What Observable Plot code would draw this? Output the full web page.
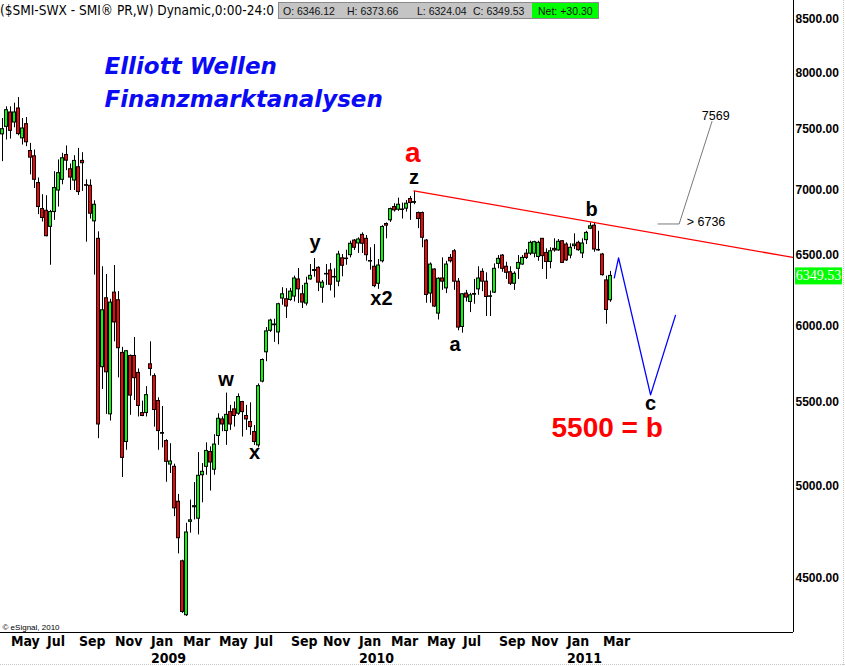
<!DOCTYPE html>
<html>
<head>
<meta charset="utf-8">
<script src="https://cdn.jsdelivr.net/npm/d3@7"></script>
<script src="https://cdn.jsdelivr.net/npm/@observablehq/plot@0.6"></script>
<style>
  html, body { margin: 0; padding: 0; background: #fff; }
  #chart { width: 845px; height: 666px; }
  svg { display: block; }
</style>
</head>
<body>
<div id="chart"></div>
<script>
// ---------------- DATA (weekly SMI candles) ----------------
const firstWeek = "2008-04-21";   // Monday of the first weekly bar

const opens = [
  7459, 7523, 7647, 7560, 7682, 7425, 7546, 7319, 7275, 7057,
  6851, 6838, 6714, 6828, 6997, 7083, 7286, 7169, 7077, 7185,
  7237, 7040, 7035, 6756, 6623, 5723, 6190, 5424, 6230, 6176,
  5817, 5256, 5797, 5797, 5686, 5432, 5432, 5742, 5665, 5507,
  5310, 5262, 5123, 5110, 4911, 4589, 4316, 4800, 4880, 4817,
  5061, 5110, 5197, 5093, 5292, 5393, 5322, 5438, 5455, 5428,
  5501, 5414, 5377, 5316, 5236, 5630, 5821, 5965, 6008, 5954,
  6188, 6183, 6178, 6202, 6324, 6218, 6153, 6324, 6385, 6408,
  6265, 6360, 6389, 6338, 6308, 6478, 6472, 6501, 6610, 6588,
  6653, 6623, 6458, 6416, 6293, 6456, 6736, 6764, 6867, 6846,
  6848, 6854, 6930, 6900, 6820, 6820, 6610, 6223, 6396, 6083,
  6331, 6260, 6481, 6530, 6308, 5991, 6223, 6164, 6215, 6253,
  6379, 6308, 6200, 6230, 6437, 6498, 6416, 6376, 6293, 6401,
  6432, 6512, 6512, 6512, 6488, 6623, 6518, 6451, 6548, 6536,
  6605, 6580, 6498, 6568, 6593, 6514, 6613, 6700, 6723, 6536,
  6506, 6317, 6176
];
const highs = [
  7595, 7696, 7696, 7728, 7778, 7595, 7603, 7383, 7327, 7097,
  6964, 6956, 6841, 7149, 7245, 7300, 7361, 7212, 7280, 7341,
  7305, 7083, 7083, 6916, 6676, 6416, 6360, 6183, 6425, 6237,
  5854, 5830, 5803, 5920, 5712, 5507, 5598, 5891, 5680, 5527,
  5473, 5270, 5246, 5125, 4952, 4595, 4792, 4920, 5019, 5193,
  5129, 5251, 5227, 5300, 5428, 5409, 5557, 5480, 5501, 5552,
  5505, 5480, 5496, 5356, 5615, 5777, 5987, 6044, 6044, 6155,
  6265, 6258, 6260, 6348, 6403, 6281, 6340, 6432, 6476, 6416,
  6317, 6432, 6440, 6401, 6530, 6506, 6538, 6605, 6618, 6631,
  6668, 6648, 6556, 6580, 6469, 6723, 6744, 6859, 6893, 6937,
  6898, 6918, 6950, 6990, 6828, 6828, 6618, 6444, 6401, 6336,
  6481, 6456, 6506, 6543, 6331, 6223, 6246, 6225, 6324, 6416,
  6401, 6372, 6241, 6437, 6498, 6506, 6449, 6416, 6379, 6498,
  6498, 6543, 6605, 6605, 6605, 6626, 6548, 6556, 6623, 6618,
  6610, 6593, 6586, 6661, 6605, 6623, 6680, 6744, 6748, 6680,
  6514, 6348, 6382
];
const lows = [
  7231, 7411, 7419, 7515, 7447, 7369, 7355, 7123, 7013, 6808,
  6751, 6638, 6427, 6764, 6867, 7043, 7157, 6997, 6997, 6958,
  6990, 6598, 6774, 6355, 5276, 5580, 5424, 5383, 5891, 5654,
  5048, 5207, 5418, 5510, 5408, 5410, 5408, 5665, 5346, 5207,
  5221, 5021, 5071, 4828, 4628, 4325, 4310, 4738, 4810, 4729,
  4905, 5061, 4971, 5061, 5236, 5318, 5236, 5326, 5346, 5418,
  5286, 5326, 5296, 5236, 5221, 5622, 5759, 5954, 5887, 5871,
  6141, 6049, 6169, 6164, 6153, 6118, 6136, 6319, 6340, 6237,
  6155, 6281, 6241, 6192, 6272, 6343, 6427, 6481, 6536, 6514,
  6514, 6456, 6391, 6265, 6253, 6444, 6623, 6748, 6828, 6833,
  6774, 6828, 6764, 6885, 6700, 6556, 6155, 6155, 6125, 6039,
  6246, 6223, 6444, 6246, 5965, 5949, 6164, 6090, 6148, 6211,
  6237, 6063, 6063, 6223, 6401, 6376, 6324, 6281, 6246, 6324,
  6427, 6469, 6498, 6481, 6456, 6396, 6324, 6401, 6523, 6530,
  6440, 6456, 6474, 6543, 6530, 6476, 6580, 6693, 6523, 6530,
  6348, 6010, 6162
];
const closes = [
  7503, 7667, 7489, 7647, 7461, 7509, 7392, 7264, 7083, 6867,
  6782, 6643, 6828, 7017, 7137, 7259, 7239, 7101, 7237, 6985,
  7218, 7035, 6815, 6885, 5362, 6106, 5690, 6160, 6022, 5848,
  5162, 5828, 5541, 5652, 5476, 5414, 5544, 5712, 5451, 5322,
  5306, 5139, 5141, 4874, 4711, 4332, 4742, 4808, 4886, 5058,
  5081, 5203, 5135, 5241, 5397, 5362, 5421, 5362, 5414, 5532,
  5438, 5393, 5346, 5256, 5601, 5770, 5961, 6035, 6003, 6148,
  6218, 6132, 6237, 6331, 6253, 6160, 6293, 6350, 6392, 6301,
  6301, 6364, 6286, 6342, 6506, 6423, 6476, 6586, 6556, 6618,
  6586, 6501, 6454, 6276, 6425, 6713, 6723, 6851, 6841, 6885,
  6844, 6893, 6898, 6906, 6774, 6631, 6213, 6432, 6132, 6329,
  6308, 6432, 6456, 6308, 5987, 6218, 6195, 6211, 6220, 6331,
  6308, 6199, 6204, 6401, 6474, 6401, 6372, 6293, 6365, 6444,
  6481, 6481, 6593, 6598, 6593, 6494, 6451, 6530, 6536, 6601,
  6444, 6462, 6556, 6580, 6538, 6588, 6668, 6718, 6543, 6540,
  6355, 6108, 6349.53
];
const lastClose = 6349.53;

// axis ticks and labels
const yTicks = [4500, 5000, 5500, 6000, 6500, 7000, 7500, 8000, 8500];
const monthTickDates = ["2008-05-05","2008-07-07","2008-09-01","2008-11-03","2009-01-05","2009-03-02",
  "2009-05-04","2009-07-06","2009-09-07","2009-11-02","2010-01-04","2010-03-01","2010-05-03","2010-07-05",
  "2010-09-06","2010-11-01","2011-01-03","2011-03-07"];
const monthLabels = ["May","Jul","Sep","Nov","Jan","Mar","May","Jul","Sep","Nov","Jan","Mar","May","Jul",
  "Sep","Nov","Jan","Mar"];
const yearTickDates = ["2009-01-05","2010-01-04","2011-01-03"];
const yearLabels = ["2009","2010","2011"];

// Elliott wave annotations
const waveText = ["z","y","w","x","x2","a","b","c"];
const waveDates = ["2010-04-12","2009-10-21","2009-05-18","2009-07-07","2010-02-14","2010-06-23","2011-02-17","2011-05-31"];
const waveValues = [7099, 6593, 5645, 5192, 6188, 5872, 6846, 5490];

const redText = ["a","5500 = b"];
const redDates = ["2010-04-10","2011-03-16"];
const redValues = [7305, 5340];

const targetText = ["7569","> 6736"];
const targetDates = ["2011-09-22","2011-09-05"];
const targetValues = [7618, 6749];

// drawn lines
const trendDates = ["2010-04-12","2012-02-04T06:00"];
const trendValues = [6995, 6484];
const targetLineDates = ["2011-06-13","2011-07-20","2011-09-15T12:00"];
const targetLineValues = [6736, 6736, 7569];
const projDates = ["2011-03-28T12:00","2011-04-05","2011-05-31","2011-07-13T14:00"];
const projValues = [6335, 6481, 5546, 6071];

// header strip (the title is cut off by the quote box in the original)
const headerTitle = "($SMI-SWX - SMI® PR,W) Dynamic,0:00-24:0";
const headerFields = ["O: 6346.12","H: 6373.66","L: 6324.04","C: 6349.53"];
const headerNet = "Net: +30.30";

// ---------------- BUILD ----------------
const utc = s => new Date(s.length <= 10 ? s + "T00:00:00Z" : s + ":00Z");
const start = utc(firstWeek);
const candles = opens.map((o, i) => ({
  date: d3.utcDay.offset(start, 7 * i), o, h: highs[i], l: lows[i], c: closes[i]
}));
const DAY = 864e5;
const halfBody = 2.625 * DAY; // 1.5px at 4px per week

const narrow = "'Liberation Sans Narrow','Arial Narrow','DejaVu Sans Condensed',sans-serif";
const sans = "'Liberation Sans',Arial,Helvetica,sans-serif";

const monthMap = new Map(monthTickDates.map((d, i) => [+utc(d), monthLabels[i]]));
const yearMap = new Map(yearTickDates.map((d, i) => [+utc(d), yearLabels[i]]));

const xDomain = [new Date("2008-04-18T09:00:00Z"), new Date("2012-02-05T03:00:00Z")];
const yDomain = [4232, 8686];

const zip = (t, d, v) => t.map((s, i) => ({t: s, d: utc(d[i]), v: v[i]}));
const pts = (d, v) => d.map((s, i) => ({d: utc(s), v: v[i]}));

const plot = Plot.plot({
  width: 845,
  height: 666,
  marginLeft: 0,
  marginRight: 52,
  marginTop: 0,
  marginBottom: 34,
  x: {type: "utc", domain: xDomain},
  y: {type: "log", domain: yDomain},
  style: {fontFamily: sans, background: "#fff", color: "#000", overflow: "visible"},
  marks: [
    Plot.axisY(yTicks, {anchor: "right", label: null, tickSize: 0, tickPadding: 2,
      tickFormat: d => d.toFixed(2), fontSize: 12, fontWeight: "bold", fill: "#000"}),
    Plot.axisX(monthTickDates.map(utc), {anchor: "bottom", label: null, tickSize: 0, tickPadding: 4,
      tickFormat: d => monthMap.get(+d), textAnchor: "start", dx: 1, fontSize: 14, fontWeight: "bold",
      fontFamily: narrow, fill: "#000"}),
    Plot.axisX(yearTickDates.map(utc), {anchor: "bottom", label: null, tickSize: 0, tickPadding: 21,
      tickFormat: d => yearMap.get(+d), textAnchor: "start", dx: 1, fontSize: 14, fontWeight: "bold",
      fontFamily: narrow, fill: "#000"}),
    Plot.ruleY([yDomain[0]], {stroke: "#000", strokeWidth: 1}),
    Plot.ruleX([xDomain[1]], {stroke: "#000", strokeWidth: 1}),
    // wicks
    Plot.ruleX(candles, {x: "date", y1: "l", y2: "h", stroke: "#000", strokeWidth: 1, dx: 0.5}),
    // bodies
    Plot.rect(candles, {
      x1: d => new Date(+d.date - halfBody),
      x2: d => new Date(+d.date + halfBody),
      y1: d => Math.min(d.o, d.c),
      y2: d => Math.max(d.o, d.c),
      fill: d => d.c >= d.o ? "#00ff00" : "#ff0000",
      stroke: "#000", strokeWidth: 1, dx: 0.5
    }),
    // trend / projection lines
    Plot.line(pts(trendDates, trendValues), {x: "d", y: "v", stroke: "#ff0000", strokeWidth: 1.3, clip: true}),
    Plot.line(pts(targetLineDates, targetLineValues), {x: "d", y: "v", stroke: "#7a7a7a", strokeWidth: 1}),
    Plot.line(pts(projDates, projValues), {x: "d", y: "v", stroke: "#0000ff", strokeWidth: 1.3}),
    // labels
    Plot.text(zip(waveText, waveDates, waveValues), {x: "d", y: "v", text: "t", fontSize: 20,
      fontWeight: "bold", fill: "#000", lineAnchor: "middle", textAnchor: "middle"}),
    Plot.text(zip(redText, redDates, redValues), {x: "d", y: "v", text: "t", fontSize: 28,
      fontWeight: "bold", fill: "#ff0000", lineAnchor: "middle", textAnchor: "middle"}),
    Plot.text(zip(targetText, targetDates, targetValues), {x: "d", y: "v", text: "t", fontSize: 12.5,
      fill: "#000", lineAnchor: "middle", textAnchor: "middle"}),
    Plot.text(["Elliott Wellen"], {frameAnchor: "top-left", dx: 104, dy: 73, lineAnchor: "bottom",
      textAnchor: "start", fontSize: 23, fontWeight: "bold", fontStyle: "italic",
      fontFamily: "'DejaVu Sans',Verdana,sans-serif", fill: "#0a0af5"}),
    Plot.text(["Finanzmarktanalysen"], {frameAnchor: "top-left", dx: 104, dy: 106, lineAnchor: "bottom",
      textAnchor: "start", fontSize: 23, fontWeight: "bold", fontStyle: "italic",
      fontFamily: "'DejaVu Sans',Verdana,sans-serif", fill: "#0a0af5"}),
    Plot.text(["© eSignal, 2010"], {frameAnchor: "bottom-left", dx: 2, dy: -3, lineAnchor: "bottom",
      textAnchor: "start", fontSize: 8, fill: "#000"})
  ]
});

document.getElementById("chart").appendChild(plot);

// ---------------- header strip & last-price flag ----------------
const svg = d3.select(plot);
const yScale = plot.scale("y");

const hdr = svg.append("g").attr("text-anchor", "start");
hdr.append("text").attr("x", 0).attr("y", 15).attr("text-anchor", "start")
  .attr("font-family", narrow).attr("font-size", 14).attr("fill", "#000")
  .attr("textLength", 274).attr("lengthAdjust", "spacingAndGlyphs")
  .text(headerTitle);
hdr.append("rect").attr("x", 278.5).attr("y", 2.5).attr("width", 320).attr("height", 16)
  .attr("fill", "#c4c4c4").attr("stroke", "#8a8a8a");
const fieldX = [283, 347, 417, 473];
headerFields.forEach((t, i) => {
  hdr.append("text").attr("x", fieldX[i]).attr("y", 14.5).attr("text-anchor", "start")
    .attr("font-family", sans).attr("font-size", 10.5).attr("fill", "#111").text(t);
});
hdr.append("rect").attr("x", 532).attr("y", 3).attr("width", 66).attr("height", 15).attr("fill", "#00ff00");
hdr.append("text").attr("x", 538).attr("y", 14.5).attr("text-anchor", "start").attr("font-family", sans)
  .attr("font-size", 10.5).attr("fill", "#111").text(headerNet);

const yc = yScale.apply(lastClose);
svg.append("rect").attr("x", 795).attr("y", yc - 8).attr("width", 47).attr("height", 17).attr("fill", "#00ff00");
svg.append("text").attr("x", 818.5).attr("y", yc + 5).attr("text-anchor", "middle")
  .attr("font-family", "'Liberation Serif','Times New Roman',serif").attr("font-size", 14)
  .attr("fill", "#fff").text(lastClose.toFixed(2));

// faint dotted page borders
svg.append("line").attr("x1", 843.5).attr("x2", 843.5).attr("y1", 0).attr("y2", 666)
  .attr("stroke", "#c8c8c8").attr("stroke-dasharray", "1,1");
svg.append("line").attr("x1", 0).attr("x2", 845).attr("y1", 664.5).attr("y2", 664.5)
  .attr("stroke", "#c8c8c8").attr("stroke-dasharray", "1,1");
</script>
</body>
</html>
